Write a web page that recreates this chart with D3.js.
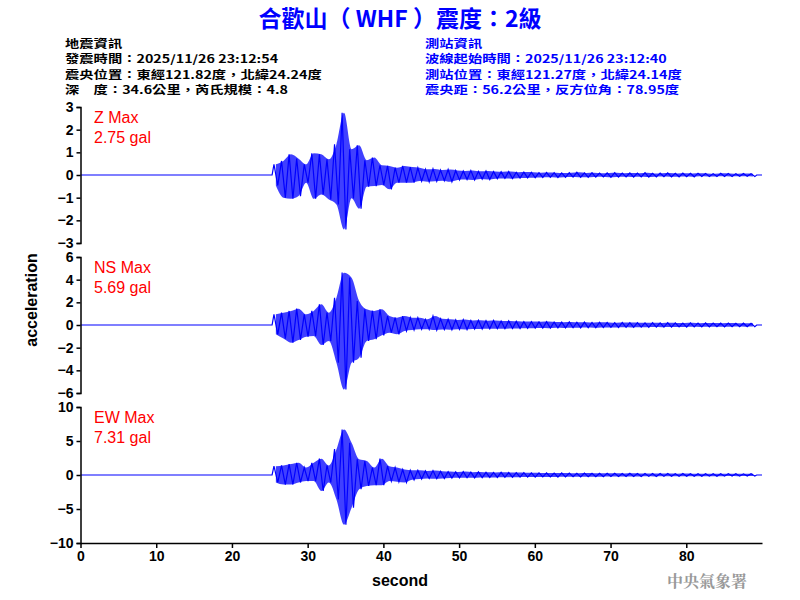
<!DOCTYPE html>
<html><head><meta charset="utf-8">
<script src="https://cdn.jsdelivr.net/npm/d3@7"></script>
<style>
body{margin:0;background:#fff}
.tick text{font-family:"Liberation Sans",Arial,sans-serif;font-weight:bold;font-size:14px}
</style></head>
<body><div id="viz"></div>
<script>
var w = 800, h = 600

// waveform envelope: per 1 s bin starting at onset (25.3 s)
var onset = 25.3
var zMax = [.47,.62,.91,.72,.47,.96,.91,.69,1.36,2.75,1.14,1.31,.65,.77,.43,.40,.32,.40,.35,.32,.25,.27,.22,.24,.20,.18,.20,.16,.18,.15,.14,.15,.12,.13,
  .12,.1,.11,.1,.09,.1,.12,.09,.1,.08,.09,.1,.08,.09,.08,.1,.07,.08,.09,.07,.08,.07,.08,.07,.06,.08,.07,.06,.07,.06]
var zMin = [-.46,-1.0,-1.05,-.93,-.34,-1.05,-.86,-1.08,-1.3,-2.4,-1.03,-1.49,-.52,-.49,-.44,-.63,-.34,-.34,-.34,-.27,-.3,-.28,-.25,-.3,-.22,-.2,-.22,-.18,-.2,-.16,-.15,-.16,-.14,-.13,
  -.12,-.11,-.1,-.11,-.1,-.09,-.1,-.1,-.09,-.08,-.1,-.09,-.08,-.09,-.08,-.09,-.08,-.07,-.08,-.08,-.07,-.08,-.06,-.07,-.07,-.06,-.07,-.06,-.06,-.07]
var nsMax = [.94,1.09,1.24,1.44,.94,1.24,1.82,1.09,2.41,4.62,4.18,2.12,1.38,1.24,1.38,.79,.65,.79,.65,.65,.5,.79,.55,.5,.45,.48,.4,.42,.38,.4,.35,.36,.32,.3,
  .3,.28,.3,.26,.25,.27,.24,.25,.22,.24,.22,.2,.22,.21,.2,.19,.2,.18,.2,.18,.17,.19,.16,.18,.17,.16,.17,.15,.16,.15]
var nsMin = [-.82,-1.2,-1.56,-1.32,-1.03,-.97,-1.76,-1.41,-3.32,-5.69,-3.32,-2.88,-1.41,-1.26,-.91,-.68,-.82,-.53,-.44,-.38,-.38,-.45,-.4,-.42,-.38,-.4,-.36,-.35,-.34,-.32,-.33,-.3,-.3,-.28,
  -.28,-.27,-.28,-.25,-.26,-.24,-.25,-.23,-.24,-.22,-.21,-.22,-.2,-.21,-.19,-.2,-.18,-.19,-.18,-.17,-.18,-.16,-.17,-.16,-.15,-.16,-.15,-.14,-.15,-.14]
var ewMax = [1.3,1.4,1.6,1.8,1.1,1.8,2.4,1.4,3.8,6.7,4.75,2.3,2.06,1.1,2.4,1.3,1.1,.8,.7,.7,.6,.65,.55,.5,.45,.5,.42,.45,.4,.38,.4,.36,.35,.34,
  .32,.3,.3,.28,.3,.27,.26,.28,.25,.26,.24,.25,.23,.24,.22,.23,.22,.21,.22,.2,.21,.2,.19,.2,.19,.18,.19,.18,.17,.18]
var ewMin = [-1.1,-1.4,-1.4,-1.1,-.9,-.9,-2.35,-1.1,-3.6,-7.31,-4.8,-2.1,-1.6,-1.5,-1.5,-.9,-1.0,-1.1,-.7,-.6,-.5,-.55,-.5,-.45,-.42,-.4,-.42,-.38,-.36,-.35,-.34,-.33,-.32,-.3,
  -.3,-.29,-.28,-.3,-.27,-.26,-.27,-.25,-.24,-.25,-.23,-.22,-.23,-.21,-.22,-.2,-.21,-.2,-.19,-.2,-.18,-.19,-.18,-.17,-.18,-.17,-.16,-.17,-.16,-.15]

var panels = [
  {name: "Z Max", peak: "2.75 gal", hi: zMax, lo: zMin, lim: 3, ticks: [-3,-2,-1,0,1,2,3], top: 107, bot: 243},
  {name: "NS Max", peak: "5.69 gal", hi: nsMax, lo: nsMin, lim: 6, ticks: [-6,-4,-2,0,2,4,6], top: 257, bot: 393},
  {name: "EW Max", peak: "7.31 gal", hi: ewMax, lo: ewMin, lim: 10, ticks: [-10,-5,0,5,10], top: 407, bot: 543}
]
var xTicks = [0,10,20,30,40,50,60,70,80]

var quakeInfo = ["地震資訊", "發震時間：2025/11/26 23:12:54", "震央位置：東經121.82度，北緯24.24度", "深　度：34.6公里，芮氏規模：4.8"]
var stationInfo = ["測站資訊", "波線起始時間：2025/11/26 23:12:40", "測站位置：東經121.27度，北緯24.14度", "震央距：56.2公里，反方位角：78.95度"]

var svg = d3.select("#viz").append("svg").attr("width", w).attr("height", h)
var sans = "'Liberation Sans', Arial, sans-serif"
var cjk = "'Noto Sans CJK TC', sans-serif"

var x = d3.scaleLinear().domain([0, 90]).range([80.5, 762])

svg.append("text").attr("x", 400).attr("y", 27).attr("text-anchor", "middle")
  .attr("fill", "#0000ff").attr("font-family", cjk).attr("font-weight", "bold").attr("font-size", 23)
  .text("合歡山（ WHF ）震度：2級")

function infoBlock(lines, x0, color) {
  lines.forEach((t, i) => svg.append("text")
    .attr("transform", "translate(" + x0 + "," + (48 + i * 15.3) + ") scale(1.3,1)")
    .attr("font-family", cjk).attr("font-weight", "bold").attr("font-size", 11)
    .attr("fill", color).text(t))
}
infoBlock(quakeInfo, 65, "#000")
infoBlock(stationInfo, 425, "#0000ff")

panels.forEach(p => {
  var y = d3.scaleLinear().domain([-p.lim, p.lim]).range([p.bot, p.top])
  // envelope between bin max and min
  svg.append("path").datum(p.hi.map((v, i) => [onset + i + 0.5, v, p.lo[i]]))
    .attr("d", d3.area().curve(d3.curveMonotoneX)
      .x(d => x(d[0])).y0(d => y(d[2])).y1(d => y(d[1])))
    .attr("fill", "#0000ff").attr("fill-opacity", 0.75)
  // zig-zag trace through each bin's max then min
  var pts = [[0, 0], [onset, 0]]
  p.hi.forEach((v, i) => {
    pts.push([onset + i + 0.25, v])
    pts.push([onset + i + 0.75, p.lo[i]])
  })
  pts.push([onset + p.hi.length, 0], [90, 0])
  svg.append("path").datum(pts)
    .attr("d", d3.line().x(d => x(d[0])).y(d => y(d[1])))
    .attr("fill", "none").attr("stroke", "#0000ff").attr("stroke-width", 1.2)

  svg.append("g").attr("transform", "translate(" + x(0) + ",0)")
    .call(d3.axisLeft(y).tickValues(p.ticks).tickSize(4).tickFormat(d3.format("d")))
    .call(g => g.selectAll("path,line").attr("stroke", "#000").attr("stroke-width", 1.5))

  svg.append("text").attr("x", 94).attr("y", p.top + 16).attr("fill", "#ff0000")
    .attr("font-family", sans).attr("font-size", 16).text(p.name)
  svg.append("text").attr("x", 94).attr("y", p.top + 36).attr("fill", "#ff0000")
    .attr("font-family", sans).attr("font-size", 16).text(p.peak)
})

svg.append("g").attr("transform", "translate(0,543)")
  .call(d3.axisBottom(x).tickValues(xTicks).tickSize(5).tickSizeOuter(0))
  .call(g => g.selectAll("path,line").attr("stroke", "#000").attr("stroke-width", 1.5))

svg.append("text").attr("x", 400).attr("y", 586).attr("text-anchor", "middle")
  .attr("font-family", sans).attr("font-weight", "bold").attr("font-size", 16).text("second")
svg.append("text").attr("transform", "translate(37,300) rotate(-90)").attr("text-anchor", "middle")
  .attr("font-family", sans).attr("font-weight", "bold").attr("font-size", 16).text("acceleration")
svg.append("text").attr("x", 747).attr("y", 587).attr("text-anchor", "end")
  .attr("font-family", "'Noto Serif CJK TC', " + cjk).attr("font-weight", "bold").attr("font-size", 16)
  .attr("fill", "#999").text("中央氣象署")
</script></body></html>
